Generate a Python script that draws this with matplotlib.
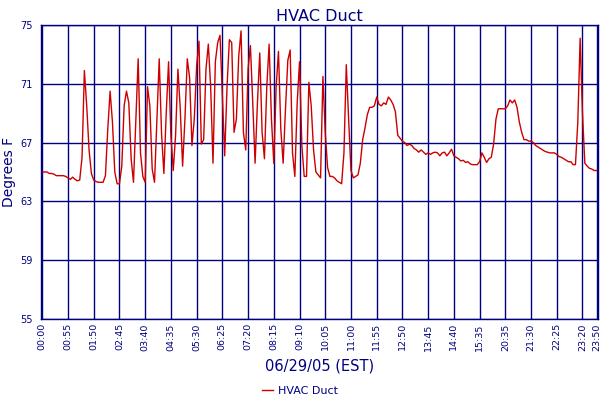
import matplotlib
matplotlib.use("Agg")
import matplotlib.pyplot as plt

# HVAC duct temperature, one reading per 5 minutes (index based x axis)
temps = [
    65.0, 65.0, 65.0, 64.9, 64.9, 64.85, 64.75, 64.75, 64.75, 64.75,
    64.7, 64.6, 64.5, 64.65, 64.5, 64.4, 64.45, 66.0, 71.9, 69.5,
    66.5, 64.9, 64.45, 64.35, 64.3, 64.3, 64.3, 64.75, 67.9, 70.5,
    68.4, 65.0, 64.2, 64.2, 65.4, 69.5, 70.5, 69.7, 65.9, 64.3,
    68.6, 72.7, 66.3, 64.7, 64.3, 70.8, 69.5, 65.2, 64.3, 68.6,
    72.7, 67.6, 64.9, 69.0, 72.5, 67.5, 65.1, 67.5, 72.0, 69.3,
    65.4, 68.6, 72.7, 71.4, 66.8, 68.6, 72.2, 73.9, 66.9, 67.2,
    72.0, 73.7, 70.8, 65.6, 72.5, 73.8, 74.3, 70.2, 66.1, 70.8,
    74.0, 73.8, 67.7, 68.6, 72.9, 74.6, 67.7, 66.5, 72.0, 73.6,
    69.7, 65.6, 69.7, 73.1, 67.7, 65.9, 70.8, 73.7, 68.6, 65.6,
    70.8, 73.2, 67.9, 65.6, 69.3, 72.6, 73.3, 66.3, 64.7, 69.7,
    72.5, 66.8, 64.7, 64.7, 71.1, 69.5, 66.5, 65.0, 64.8, 64.6,
    71.5, 67.7, 65.3, 64.7, 64.7, 64.6, 64.4, 64.3, 64.2, 66.3,
    72.3, 68.6, 65.1, 64.6, 64.7, 64.8, 65.6, 67.2, 68.0, 68.9,
    69.4, 69.4, 69.5, 70.1, 69.6, 69.5, 69.7, 69.6, 70.1, 69.9,
    69.6, 69.1, 67.5, 67.3, 67.1, 67.0, 66.8, 66.9, 66.8, 66.6,
    66.5, 66.35, 66.5, 66.35, 66.2, 66.3, 66.2, 66.3, 66.35, 66.3,
    66.1, 66.3, 66.35, 66.1, 66.3, 66.55, 66.1, 66.0, 65.9, 65.75,
    65.8, 65.65, 65.7, 65.55, 65.5, 65.5, 65.5, 65.7, 66.3, 66.0,
    65.65, 65.9, 66.0, 66.9, 68.6, 69.3, 69.3, 69.3, 69.3, 69.5,
    69.9, 69.7, 69.9, 69.4, 68.4, 67.7, 67.2, 67.2, 67.1, 67.1,
    67.0, 66.8, 66.7, 66.6, 66.5, 66.4, 66.35, 66.3, 66.3, 66.3,
    66.2, 66.05, 66.0, 65.9, 65.8, 65.7, 65.7, 65.5, 65.5, 68.4,
    74.1, 69.0, 65.6, 65.4, 65.25, 65.2, 65.1, 65.1,
]

tick_labels = ["00:00", "00:55", "01:50", "02:45", "03:40", "04:35", "05:30",
               "06:25", "07:20", "08:15", "09:10", "10:05", "11:00", "11:55",
               "12:50", "13:45", "14:40", "15:35", "20:35", "21:30", "22:25",
               "23:20", "23:50"]
tick_pos = [11 * k for k in range(22)] + [237]
y_ticks = [55, 59, 63, 67, 71, 75]

navy = "#000080"

fig = plt.figure(figsize=(6, 4), dpi=100)
ax = fig.add_axes([0.0683, 0.2025, 0.929, 0.735])

x = list(range(len(temps)))
ax.plot(x, temps, color="#cc0000", linewidth=1.0, label="HVAC Duct")

ax.set_xlim(-0.56, 237.8)
ax.set_ylim(55, 75)
ax.set_xticks(tick_pos)
ax.set_xticklabels(tick_labels, rotation=90, fontsize=6.8, color=navy)
ax.set_yticks(y_ticks)
ax.set_yticklabels([str(v) for v in y_ticks], fontsize=7, color=navy)
ax.tick_params(axis="both", length=0)
ax.tick_params(axis="x", pad=3)
ax.tick_params(axis="y", pad=6)
ax.grid(True, color=navy, linewidth=1.0)
ax.set_axisbelow(True)
for s in ax.spines.values():
    s.set_color(navy)
    s.set_linewidth(1.0)

ax.set_title("HVAC Duct", color=navy, fontsize=11.5, pad=3)
ax.set_ylabel("Degrees F", color=navy, fontsize=10, labelpad=3)
ax.set_xlabel("06/29/05 (EST)", color=navy, fontsize=10.5, labelpad=6)

leg = fig.legend(loc="lower center", bbox_to_anchor=(0.5, -0.015), frameon=False,
                 fontsize=8, handlelength=1.0, handletextpad=0.4)
for t in leg.get_texts():
    t.set_color(navy)

fig.savefig("out.png", dpi=100)
